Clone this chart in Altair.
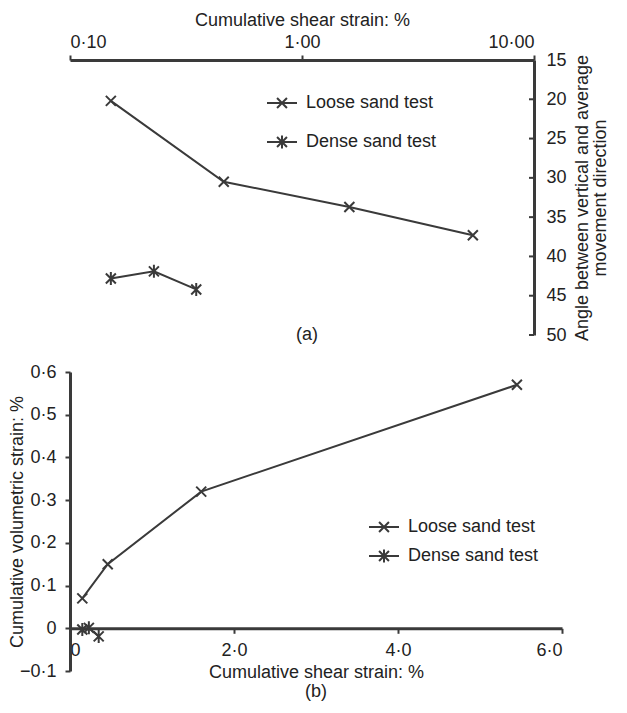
import altair as alt
import pandas as pd

SERIES = ["Loose sand test", "Dense sand test"]

loose_shear = [0.15, 0.46, 1.60, 5.45]
loose_angle = [20.2, 30.5, 33.7, 37.3]
loose_vol = [0.07, 0.15, 0.32, 0.57]

dense_shear = [0.15, 0.23, 0.35]
dense_angle = [42.8, 41.9, 44.2]
dense_vol = [-0.003, 0.001, -0.019]

log_ticks = [0.1, 1.0, 10.0]
angle_ticks = [15, 20, 25, 30, 35, 40, 45, 50]
lin_ticks = [0, 2, 4, 6]
vol_ticks = [-0.1, 0.0, 0.1, 0.2, 0.3, 0.4, 0.5, 0.6]

rows = []
for i, (s, a, v) in enumerate(zip(loose_shear, loose_angle, loose_vol)):
    rows.append(dict(series=SERIES[0], shear=s, angle=a, vol=v, order=i))
for i, (s, a, v) in enumerate(zip(dense_shear, dense_angle, dense_vol)):
    rows.append(dict(series=SERIES[1], shear=s, angle=a, vol=v, order=i))
df = pd.DataFrame(rows)
tick_df = pd.DataFrame({"angle": angle_ticks})

FONT = "Liberation Sans"
INK = "#3a3a3a"
TEXT = "#222222"

X_PATH = "M-1,-1L1,1M1,-1L-1,1"
AST_PATH = "M-1,-1L1,1M1,-1L-1,1M0,-1.3L0,1.3"
LEG_X = "M-1,0L1,0M-0.33,-0.33L0.33,0.33M0.33,-0.33L-0.33,0.33"
LEG_AST = "M-1,0L1,0M-0.33,-0.33L0.33,0.33M0.33,-0.33L-0.33,0.33M0,-0.43L0,0.43"

WA, HA = 464, 275
WB, HB = 492, 299


def legend(x, y, rowpad):
    return alt.Legend(
        orient="none", legendX=x, legendY=y, title=None, padding=0,
        labelFont=FONT, labelFontSize=18, labelColor=TEXT, labelOffset=8,
        symbolSize=900, symbolStrokeWidth=2, symbolStrokeColor=INK,
        symbolFillColor="transparent", rowPadding=rowpad,
    )


# ---------- panel (a) ----------
xa = alt.X("shear:Q", scale=alt.Scale(type="log", domain=[0.1, 10]),
           axis=alt.Axis(orient="top", values=log_ticks,
                         labelExpr="replace(format(datum.value, '.2f'), '.', '·')",
                         title="Cumulative shear strain: %", tickSize=5,
                         labelPadding=4, titlePadding=4, grid=False))
ya = alt.Y("angle:Q", scale=alt.Scale(domain=[15, 50], reverse=True),
           axis=alt.Axis(orient="right", values=angle_ticks, tickSize=0,
                         labelPadding=12, grid=False,
                         title=["Angle between vertical and average", "movement direction"],
                         titleAngle=270, titlePadding=7, titleLineHeight=18))

base_a = alt.Chart(df)
line_a = base_a.mark_line(color=INK, strokeWidth=2).encode(
    x=xa, y=ya, detail="series:N", order="order:Q")
pts_a = base_a.mark_point(filled=False, stroke=INK, strokeWidth=2, size=100, opacity=1).encode(
    x=xa, y=ya,
    shape=alt.Shape("series:N", scale=alt.Scale(domain=SERIES, range=[X_PATH, AST_PATH]), legend=None))
leg_a = base_a.transform_filter("false").mark_point(filled=False, stroke=INK, strokeWidth=2, opacity=1).encode(
    x=xa, y=ya,
    shape=alt.Shape("series:N", scale=alt.Scale(domain=SERIES, range=[LEG_X, LEG_AST]),
                    legend=legend(196, 27, 14)))
ticks_a = alt.Chart(tick_df).mark_rule(color=INK, strokeWidth=2).encode(
    y=ya, x=alt.value(WA - 5), x2=alt.value(WA))

panel_a = alt.layer(line_a, pts_a, leg_a, ticks_a).resolve_scale(shape="independent").properties(
    width=WA, height=HA,
    title=alt.Title("(a)", orient="bottom", anchor="middle", frame="group", offset=-18,
                    fontSize=18, font=FONT, fontWeight="normal", color=TEXT, dx=5))

# ---------- panel (b) ----------
xb = alt.X("shear:Q", scale=alt.Scale(domain=[0, 6], nice=False),
           axis=alt.Axis(values=lin_ticks, offset=-HB * 0.1 / 0.7,
                         labelExpr="datum.value == 0 ? '0' : replace(format(datum.value, '.1f'), '.', '·')",
                         title="Cumulative shear strain: %", tickSize=5, labelPadding=8,
                         titlePadding=4, grid=False))
yb = alt.Y("vol:Q", scale=alt.Scale(domain=[-0.1, 0.6], nice=False),
           axis=alt.Axis(values=vol_ticks, tickSize=5, labelPadding=9, grid=False,
                         labelExpr="datum.value == 0 ? '0' : replace(format(datum.value, '.1f'), '.', '·')",
                         title="Cumulative volumetric strain: %", titlePadding=-7))

base_b = alt.Chart(df)
line_b = base_b.mark_line(color=INK, strokeWidth=2).encode(
    x=xb, y=yb, detail="series:N", order="order:Q")
pts_b = base_b.mark_point(filled=False, stroke=INK, strokeWidth=2, size=100, opacity=1).encode(
    x=xb, y=yb,
    shape=alt.Shape("series:N", scale=alt.Scale(domain=SERIES, range=[X_PATH, AST_PATH]), legend=None))
leg_b = base_b.transform_filter("false").mark_point(filled=False, stroke=INK, strokeWidth=2, opacity=1).encode(
    x=xb, y=yb,
    shape=alt.Shape("series:N", scale=alt.Scale(domain=SERIES, range=[LEG_X, LEG_AST]),
                    legend=legend(298, 139, 4)))

panel_b = alt.layer(line_b, pts_b, leg_b).resolve_scale(shape="independent").properties(
    width=WB, height=HB,
    title=alt.Title("(b)", orient="bottom", anchor="middle", frame="group", offset=2,
                    fontSize=18, font=FONT, fontWeight="normal", color=TEXT))

chart = alt.vconcat(panel_a, panel_b, spacing=19).properties(
    padding={"left": 0, "top": 3, "right": 0, "bottom": 0}
).configure_view(stroke=None).configure_axis(
    labelFont=FONT, titleFont=FONT, labelFontSize=18, titleFontSize=18,
    labelColor=TEXT, titleColor=TEXT, titleFontWeight="normal",
    domainColor=INK, domainWidth=3, tickColor=INK, tickWidth=2,
).configure_legend(labelFont=FONT)

chart.save("out.html", embed_options={"renderer": "svg", "actions": False})
